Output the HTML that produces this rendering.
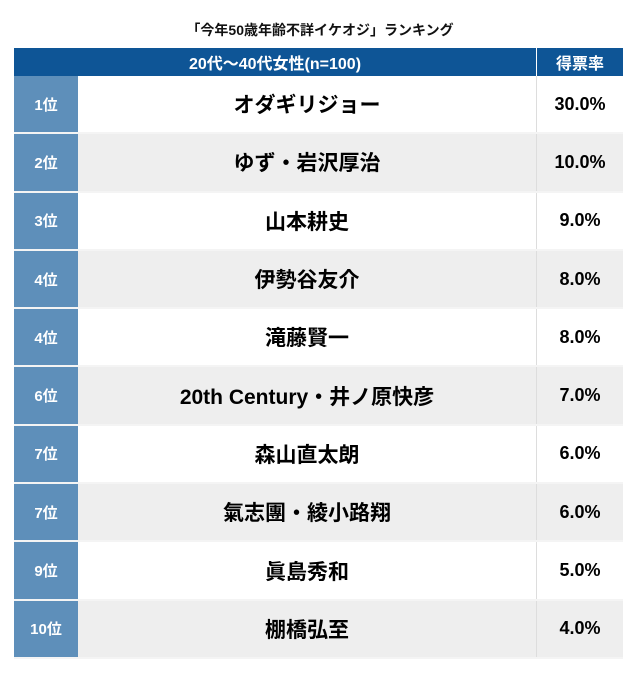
<!DOCTYPE html>
<html><head><meta charset="utf-8"><style>
body{margin:0;background:#fff;width:640px;height:676px;overflow:hidden;font-family:"Liberation Sans","Noto Sans CJK JP",sans-serif;font-weight:bold}
.title{position:absolute;top:20px;left:0;width:640px;text-align:center;font-size:14px;color:#111}
table{position:absolute;left:14px;top:48px;width:609px;border-collapse:collapse}
th{background:#0e5596;color:#fff;font-size:16px;height:28px;padding:0}
th.p{border-left:1px solid #fff}
td{height:56.3px;padding:0;text-align:center;border-bottom:2px solid #f4f4f4}
td.r{background:#5e8fba;color:#fff;width:64px;font-size:15px}
td.n{font-size:21px;color:#000}
td.p{width:86px;font-size:18px;color:#000;border-left:1px solid #ddd}
tr.g td.n,tr.g td.p{background:#eeeeee}
tr.w td.n,tr.w td.p{background:#fff}
</style></head><body>
<div class="title">「今年50歳年齢不詳イケオジ」ランキング</div>
<table>
<tr><th colspan="2">20代〜40代女性(n=100)</th><th class="p">得票率</th></tr>
<tr class="w"><td class="r">1位</td><td class="n">オダギリジョー</td><td class="p">30.0%</td></tr>
<tr class="g"><td class="r">2位</td><td class="n">ゆず・岩沢厚治</td><td class="p">10.0%</td></tr>
<tr class="w"><td class="r">3位</td><td class="n">山本耕史</td><td class="p">9.0%</td></tr>
<tr class="g"><td class="r">4位</td><td class="n">伊勢谷友介</td><td class="p">8.0%</td></tr>
<tr class="w"><td class="r">4位</td><td class="n">滝藤賢一</td><td class="p">8.0%</td></tr>
<tr class="g"><td class="r">6位</td><td class="n">20th Century・井ノ原快彦</td><td class="p">7.0%</td></tr>
<tr class="w"><td class="r">7位</td><td class="n">森山直太朗</td><td class="p">6.0%</td></tr>
<tr class="g"><td class="r">7位</td><td class="n">氣志團・綾小路翔</td><td class="p">6.0%</td></tr>
<tr class="w"><td class="r">9位</td><td class="n">眞島秀和</td><td class="p">5.0%</td></tr>
<tr class="g"><td class="r">10位</td><td class="n">棚橋弘至</td><td class="p">4.0%</td></tr>
</table>
</body></html>
